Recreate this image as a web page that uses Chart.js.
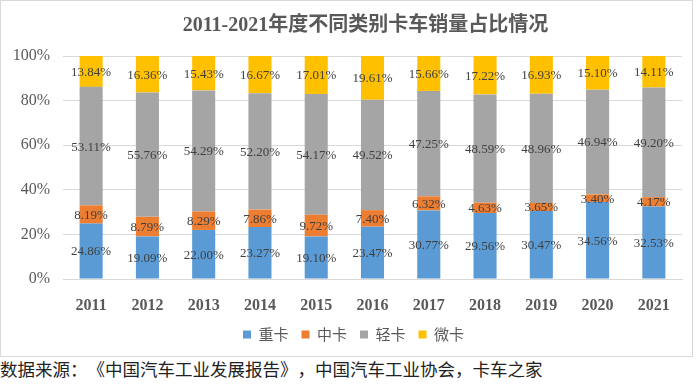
<!DOCTYPE html>
<html>
<head>
<meta charset="utf-8">
<script src="https://cdn.jsdelivr.net/npm/chart.js@4"></script>
<style>
  body { margin: 0; background: #fff; width: 700px; height: 385px; overflow: hidden; position: relative; }
  #frame { position: absolute; left: 0; top: 0; width: 691px; height: 355px; border: 1px solid #d9d9d9; }
  #source { position: absolute; left: 0; top: 359px; font: 17.5px "Liberation Serif", "Noto Sans CJK SC"; color: #222; line-height: 22px; white-space: nowrap; text-spacing-trim: space-all; }
</style>
</head>
<body>
<div id="frame"><canvas id="truck_canvas"></canvas></div>
<div id="source">数据来源：《中国汽车工业发展报告》，中国汽车工业协会，卡车之家</div>
<script>
const years = ['2011', '2012', '2013', '2014', '2015', '2016', '2017', '2018', '2019', '2020', '2021'];

const heavy = [24.86, 19.09, 22.00, 23.27, 19.10, 23.47, 30.77, 29.56, 30.47, 34.56, 32.53];
const medium = [8.19, 8.79, 8.29, 7.86, 9.72, 7.40, 6.32, 4.63, 3.65, 3.40, 4.17];
const light = [53.11, 55.76, 54.29, 52.20, 54.17, 49.52, 47.25, 48.59, 48.96, 46.94, 49.20];
const mini = [13.84, 16.36, 15.43, 16.67, 17.01, 19.61, 15.66, 17.22, 16.93, 15.10, 14.11];

const yTicks = [0, 20, 40, 60, 80, 100];

const heavy_color = 'rgb(91, 155, 213)';
const medium_color = 'rgb(237, 125, 49)';
const light_color = 'rgb(165, 165, 165)';
const mini_color = 'rgb(255, 192, 0)';

const serif = '"Liberation Serif", "Noto Sans CJK SC"';

// value labels in the middle of each segment
const segmentLabels = {
    id: 'segmentLabels',
    afterDatasetsDraw(chart) {
        const ctx = chart.ctx;
        ctx.save();
        ctx.font = '13px ' + serif;
        ctx.fillStyle = '#404040';
        ctx.textAlign = 'center';
        ctx.textBaseline = 'middle';
        chart.data.datasets.forEach((ds, i) => {
            chart.getDatasetMeta(i).data.forEach((bar, j) => {
                const p = bar.getProps(['x', 'y', 'base'], true);
                ctx.fillText(ds.data[j].toFixed(2) + '%', p.x, (p.y + p.base) / 2 + 1);
            });
        });
        ctx.restore();
    }
};

// title and legend sit over the plot area, not the whole canvas
const shiftBlocks = {
    id: 'shiftBlocks',
    afterLayout(chart) {
        const t = chart.titleBlock;
        t.left += 24; t.right += 24;
        const l = chart.legend;
        l.left += 12; l.right += 12;
    }
};

new Chart(document.getElementById('truck_canvas'), {
    type: 'bar',
    data: {
        labels: years,
        datasets: [
            { label: '重卡', data: heavy, backgroundColor: heavy_color },
            { label: '中卡', data: medium, backgroundColor: medium_color },
            { label: '轻卡', data: light, backgroundColor: light_color },
            { label: '微卡', data: mini, backgroundColor: mini_color }
        ]
    },
    options: {
        responsive: true,
        maintainAspectRatio: false,
        animation: false,
        datasets: { bar: { categoryPercentage: 1, barPercentage: 0.41 } },
        layout: { padding: { left: 0, right: 10, top: 0, bottom: 4 } },
        plugins: {
            title: {
                display: true,
                text: '2011-2021年度不同类别卡车销量占比情况',
                color: '#595959',
                font: { family: serif, size: 20, weight: 'bold' },
                padding: { top: 13, bottom: 18 }
            },
            legend: {
                position: 'bottom',
                labels: {
                    boxWidth: 8,
                    boxHeight: 8,
                    padding: 13,
                    color: '#595959',
                    font: { family: '"Noto Sans CJK SC"', size: 15 }
                }
            },
            tooltip: { enabled: false }
        },
        scales: {
            x: {
                stacked: true,
                grid: { display: false },
                border: { color: '#d9d9d9' },
                ticks: {
                    color: '#595959',
                    padding: 9,
                    font: { family: serif, size: 16, weight: 'bold' }
                },
                afterFit(scale) { scale.height = 35; }
            },
            y: {
                stacked: true,
                min: 0,
                max: 100,
                border: { display: false },
                grid: { color: '#d9d9d9', drawTicks: false },
                afterBuildTicks(scale) { scale.ticks = yTicks.map(v => ({ value: v })); },
                ticks: {
                    color: '#595959',
                    padding: 13,
                    font: { family: serif, size: 16 },
                    callback: v => v + '%'
                },
                afterFit(scale) { scale.width = 62; }
            }
        }
    },
    plugins: [segmentLabels, shiftBlocks]
});
</script>
</body>
</html>
